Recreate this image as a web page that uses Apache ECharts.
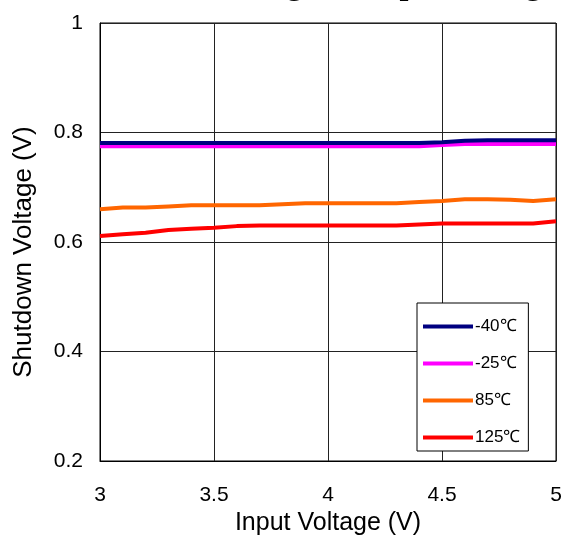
<!DOCTYPE html>
<html>
<head>
<meta charset="utf-8">
<script src="https://cdn.jsdelivr.net/npm/echarts@6/dist/echarts.min.js"></script>
<style>
html,body{margin:0;padding:0;background:#fff;}
#chart{width:573px;height:539px;}
</style>
</head>
<body>
<div id="chart"></div>
<script>
var titleText = 'Shutdown Voltage vs. Input Voltage';
var xTitle = 'Input Voltage (V)';
var yTitle = 'Shutdown Voltage (V)';
var seriesNames = ['-40℃', '-25℃', '85℃', '125℃'];
var seriesColors = ['#000080', '#FF00FF', '#FF6600', '#FF0000'];
var inputVoltage = [3.0, 3.1, 3.2, 3.3, 3.4, 3.5, 3.6, 3.7, 3.8, 3.9, 4.0, 4.1, 4.2, 4.3, 4.4, 4.5, 4.6, 4.7, 4.8, 4.9, 5.0];
var vMinus40 = [0.781, 0.781, 0.781, 0.781, 0.781, 0.781, 0.781, 0.781, 0.781, 0.781, 0.781, 0.781, 0.781, 0.781, 0.781, 0.782, 0.785, 0.786, 0.786, 0.786, 0.786];
var vMinus25 = [0.775, 0.775, 0.775, 0.775, 0.775, 0.775, 0.775, 0.775, 0.775, 0.775, 0.775, 0.775, 0.775, 0.775, 0.775, 0.777, 0.779, 0.779, 0.779, 0.779, 0.779];
var v85 = [0.660, 0.663, 0.663, 0.665, 0.667, 0.667, 0.667, 0.667, 0.669, 0.671, 0.671, 0.671, 0.671, 0.671, 0.673, 0.675, 0.678, 0.678, 0.677, 0.675, 0.678];
var v125 = [0.611, 0.614, 0.617, 0.622, 0.624, 0.626, 0.629, 0.630, 0.630, 0.630, 0.630, 0.630, 0.630, 0.630, 0.632, 0.634, 0.634, 0.634, 0.634, 0.634, 0.638];
var xTicks = {min: 3, max: 5, interval: 0.5};
var yTicks = {min: 0.2, max: 1, interval: 0.2};

function pairs(xs, ys) { return xs.map(function (x, i) { return [x, ys[i]]; }); }
var allValues = [vMinus40, vMinus25, v85, v125];

var chart = echarts.init(document.getElementById('chart'), null, {renderer: 'canvas'});
var series = allValues.map(function (vals, i) {
  return {
    name: seriesNames[i],
    type: 'line',
    data: pairs(inputVoltage, vals),
    showSymbol: false,
    symbol: 'none',
    z: i === 0 ? 4 : 3,
    lineStyle: {color: seriesColors[i], width: 4},
    itemStyle: {color: seriesColors[i]}
  };
});

chart.setOption({
  animation: false,
  backgroundColor: '#fff',
  title: {
    text: titleText,
    left: 63,
    top: -35,
    textStyle: {fontFamily: 'Liberation Serif', fontWeight: 'bold', fontSize: 32, color: '#000'}
  },
  grid: {left: 100, right: 17, top: 23, bottom: 78, show: true, borderColor: '#000', borderWidth: 1, containLabel: false, outerBoundsMode: 'none'},
  legend: {
    orient: 'vertical',
    left: 417,
    top: 303,
    padding: [15, 8, 5, 6],
    itemWidth: 50,
    itemHeight: 4,
    itemGap: 20,
    icon: 'rect',
    backgroundColor: '#fff',
    borderColor: '#000',
    borderWidth: 1,
    textStyle: {fontFamily: 'Liberation Sans', fontSize: 17, color: '#000', padding: [0, 0, 0, -3]},
    data: seriesNames
  },
  xAxis: {
    type: 'value',
    min: xTicks.min, max: xTicks.max, interval: xTicks.interval,
    name: xTitle,
    nameLocation: 'middle',
    nameGap: 43,
    nameTextStyle: {fontFamily: 'Liberation Sans', fontSize: 25, color: '#000'},
    axisLine: {show: true, lineStyle: {color: '#000', width: 1}},
    axisTick: {show: false},
    axisLabel: {fontFamily: 'Liberation Sans', fontSize: 21, color: '#000', margin: 24},
    splitLine: {show: true, lineStyle: {color: '#222', width: 1}}
  },
  yAxis: {
    type: 'value',
    min: yTicks.min, max: yTicks.max, interval: yTicks.interval,
    name: yTitle,
    nameLocation: 'middle',
    nameGap: 63,
    nameTextStyle: {fontFamily: 'Liberation Sans', fontSize: 26, color: '#000', padding: [0, 20, 0, 0]},
    axisLine: {show: true, lineStyle: {color: '#000', width: 1}},
    axisTick: {show: false},
    axisLabel: {
      fontFamily: 'Liberation Sans', fontSize: 21, color: '#000', margin: 17,
      formatter: function (v) { return Math.abs(v - 1) < 1e-9 ? '1' : v.toFixed(1); }
    },
    splitLine: {show: true, lineStyle: {color: '#222', width: 1}}
  },
  series: series
});
</script>
</body>
</html>
